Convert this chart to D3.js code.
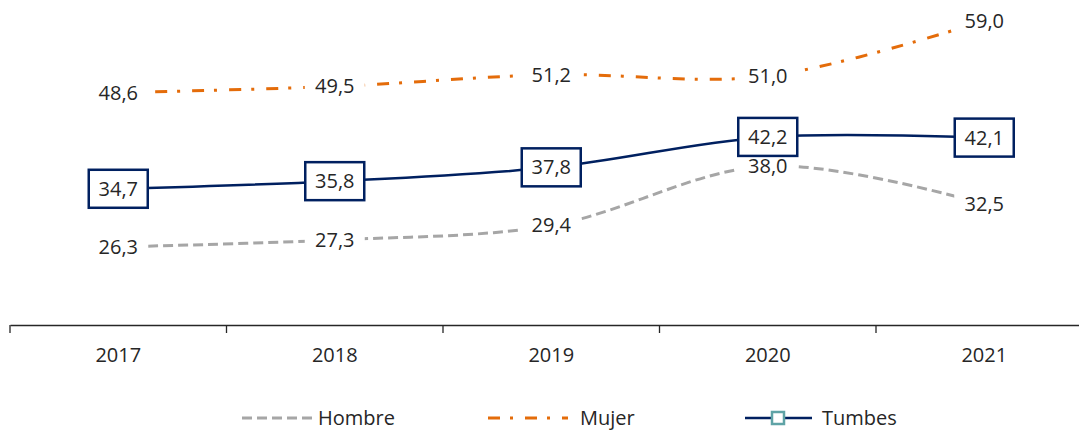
<!DOCTYPE html>
<html>
<head>
<meta charset="utf-8">
<script src="https://cdn.jsdelivr.net/npm/d3@7"></script>
<style>
  body { margin: 0; background: #fff; }
  text { font-family: "Open Sans", sans-serif; fill: #262626; }
</style>
</head>
<body>
<div id="chartDiv"></div>
<script>
// chart data
const years = ["2017", "2018", "2019", "2020", "2021"];
const hombre = [26.3, 27.3, 29.4, 38.0, 32.5];
const mujer = [48.6, 49.5, 51.2, 51.0, 59.0];
const tumbes = [34.7, 35.8, 37.8, 42.2, 42.1];
const seriesNames = ["Hombre", "Mujer", "Tumbes"];

const width = 1079, height = 432;
const fmt = v => d3.format(".1f")(v).replace(".", ",");

let svg = d3.select("#chartDiv").append("svg")
    .attr("width", width)
    .attr("height", height);

let x = d3.scaleBand()
    .domain(years)
    .range([10, 1092.5])
    .paddingInner(0);

let y = d3.scaleLinear()
    .domain([15, 62])
    .range([325, 0]);

const cx = d => x(d) + x.bandwidth() / 2;

// x axis
let xAxis = d3.axisBottom(x).tickSize(0).tickPadding(0);
let gx = svg.append("g")
    .attr("transform", "translate(0,325)")
    .call(xAxis);
gx.select(".domain").attr("stroke", "#262626").attr("stroke-width", 1.3);
gx.selectAll(".tick text")
    .attr("y", 30)
    .attr("dy", "0.35em")
    .style("font-size", "20px")
    .style("fill", "#262626");
// boundary ticks between categories
gx.selectAll("line.bound")
    .data(years)
    .enter().append("line")
    .attr("class", "bound")
    .attr("x1", d => x(d)).attr("x2", d => x(d))
    .attr("y1", 0).attr("y2", 8)
    .attr("stroke", "#262626")
    .attr("stroke-width", 1.3);

const line = d3.line()
    .x((d, i) => cx(years[i]))
    .y(d => y(d))
    .curve(d3.curveCatmullRom.alpha(0.5));

svg.append("path")
    .datum(hombre)
    .attr("d", line)
    .attr("fill", "none")
    .attr("stroke", "#A6A6A6")
    .attr("stroke-width", 3)
    .attr("stroke-dasharray", "10,5");

svg.append("path")
    .datum(mujer)
    .attr("d", line)
    .attr("fill", "none")
    .attr("stroke", "#E46C0A")
    .attr("stroke-width", 3)
    .attr("stroke-dasharray", "12,10,3,12");

svg.append("path")
    .datum(tumbes)
    .attr("d", line)
    .attr("fill", "none")
    .attr("stroke", "#002060")
    .attr("stroke-width", 2.5);

// plain labels with white background
function plainLabels(values, cls) {
    let g = svg.selectAll("g." + cls)
        .data(values)
        .enter().append("g")
        .attr("class", cls)
        .attr("transform", (d, i) => `translate(${cx(years[i])},${y(d)})`);
    g.append("rect")
        .attr("x", -30).attr("y", -14)
        .attr("width", 60).attr("height", 28)
        .attr("fill", "#fff");
    g.append("text")
        .attr("text-anchor", "middle")
        .attr("dy", "0.35em")
        .style("font-size", "20px")
        .text(d => fmt(d));
}
plainLabels(hombre, "lblH");
plainLabels(mujer, "lblM");

// boxed labels for Tumbes
let tb = svg.selectAll("g.lblT")
    .data(tumbes)
    .enter().append("g")
    .attr("class", "lblT")
    .attr("transform", (d, i) => `translate(${cx(years[i])},${y(d)})`);
tb.append("rect")
    .attr("x", -29.5).attr("y", -19)
    .attr("width", 59).attr("height", 38)
    .attr("fill", "#fff")
    .attr("stroke", "#002060")
    .attr("stroke-width", 2.5);
tb.append("text")
    .attr("text-anchor", "middle")
    .attr("dy", "0.35em")
    .style("font-size", "20px")
    .text(d => fmt(d));

// legend
const legY = 418;
let leg = svg.append("g");
leg.append("line")
    .attr("x1", 242).attr("x2", 312).attr("y1", legY).attr("y2", legY)
    .attr("stroke", "#A6A6A6").attr("stroke-width", 3)
    .attr("stroke-dasharray", "10,5");
leg.append("line")
    .attr("x1", 488).attr("x2", 568).attr("y1", legY).attr("y2", legY)
    .attr("stroke", "#E46C0A").attr("stroke-width", 3)
    .attr("stroke-dasharray", "12,10,3,12");
leg.append("line")
    .attr("x1", 745).attr("x2", 812).attr("y1", legY).attr("y2", legY)
    .attr("stroke", "#002060").attr("stroke-width", 2.5);
leg.append("rect")
    .attr("x", 772).attr("y", legY - 6)
    .attr("width", 12).attr("height", 12)
    .attr("fill", "#fff")
    .attr("stroke", "#5FA3A6").attr("stroke-width", 2.5);

const legX = [318, 580, 822];
leg.selectAll("text")
    .data(seriesNames)
    .enter().append("text")
    .attr("x", (d, i) => legX[i])
    .attr("y", legY)
    .attr("dy", "0.35em")
    .style("font-size", "20px")
    .text(d => d);
</script>
</body>
</html>
